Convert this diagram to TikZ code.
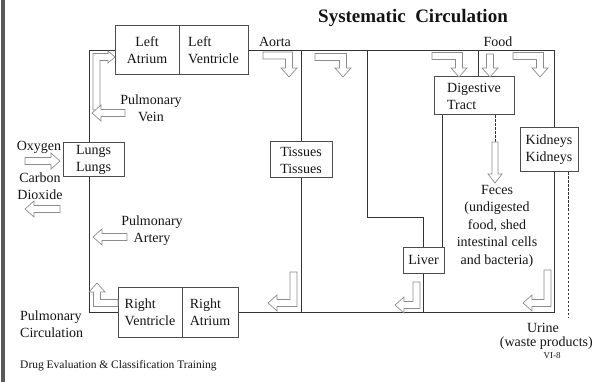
\documentclass[tikz,border=0pt]{standalone}
\usepackage{fontspec}
\setmainfont{Liberation Serif}
\def\sA{3.5}\def\hA{8}\def\lA{9}
\newcommand\arrRD[4]{\draw[harrow] ({#1},{#2-\sA}) -- ({#3+\sA},{#2-\sA}) -- ({#3+\sA},{#4-\lA}) -- ({#3+\hA},{#4-\lA}) -- ({#3},{#4}) -- ({#3-\hA},{#4-\lA}) -- ({#3-\sA},{#4-\lA}) -- ({#3-\sA},{#2+\sA}) -- ({#1},{#2+\sA}) -- cycle;}
\newcommand\arrDL[4]{\draw[harrow] ({#1-\sA},{#2}) -- ({#1+\sA},{#2}) -- ({#1+\sA},{#3+\sA}) -- ({#4+\lA},{#3+\sA}) -- ({#4+\lA},{#3+\hA}) -- ({#4},{#3}) -- ({#4+\lA},{#3-\hA}) -- ({#4+\lA},{#3-\sA}) -- ({#1-\sA},{#3-\sA}) -- cycle;}
\newcommand\arrLU[4]{\draw[harrow] ({#1},{#2+\sA}) -- ({#3-\sA},{#2+\sA}) -- ({#3-\sA},{#4+\lA}) -- ({#3-\hA},{#4+\lA}) -- ({#3},{#4}) -- ({#3+\hA},{#4+\lA}) -- ({#3+\sA},{#4+\lA}) -- ({#3+\sA},{#2-\sA}) -- ({#1},{#2-\sA}) -- cycle;}
\newcommand\arrUR[4]{\draw[harrow] ({#1-\sA},{#2}) -- ({#1-\sA},{#3-\sA}) -- ({#4-\lA},{#3-\sA}) -- ({#4-\lA},{#3-\hA}) -- ({#4},{#3}) -- ({#4-\lA},{#3+\hA}) -- ({#4-\lA},{#3+\sA}) -- ({#1+\sA},{#3+\sA}) -- ({#1+\sA},{#2}) -- cycle;}
\newcommand\arrLeft[3]{\draw[harrow] ({#2},{#3-\sA}) -- ({#1+\lA},{#3-\sA}) -- ({#1+\lA},{#3-\hA}) -- ({#1},{#3}) -- ({#1+\lA},{#3+\hA}) -- ({#1+\lA},{#3+\sA}) -- ({#2},{#3+\sA}) -- cycle;}
\newcommand\arrRight[3]{\draw[harrow] ({#1},{#3-\sA}) -- ({#2-\lA},{#3-\sA}) -- ({#2-\lA},{#3-\hA}) -- ({#2},{#3}) -- ({#2-\lA},{#3+\hA}) -- ({#2-\lA},{#3+\sA}) -- ({#1},{#3+\sA}) -- cycle;}
\newcommand\arrDown[3]{\draw[harrow] ({#1-\sA},{#2}) -- ({#1-\sA},{#3-\lA}) -- ({#1-\hA},{#3-\lA}) -- ({#1},{#3}) -- ({#1+\hA},{#3-\lA}) -- ({#1+\sA},{#3-\lA}) -- ({#1+\sA},{#2}) -- cycle;}
\begin{document}
\begin{tikzpicture}[x=1pt,y=-1pt,
  every node/.style={text=black!92, font=\fontsize{14}{17}\selectfont},
  box/.style={draw=black!70, line width=1pt, fill=white, inner sep=2pt},
  flow/.style={draw=black!80, line width=0.8pt},
  dashflow/.style={draw=black!80, line width=0.9pt, dash pattern=on 2.5pt off 1.5pt},
  harrow/.style={draw=black!45, line width=0.7pt, fill=white, line join=miter},
  lbl/.style={align=center, inner sep=0pt}]
\useasboundingbox (0,0) rectangle (594,382);
\fill[black!65] (1,0) rectangle (5,382);
% title
\node[lbl, font=\fontsize{19}{22}\bfseries\selectfont] (title) at (413,18) {Systematic\ \ Circulation};
% boxes
\node[box, minimum width=64pt, minimum height=49pt, align=center] (LA) at (147,50.5) {Left\\Atrium};
\node[box, minimum width=69pt, minimum height=49pt, align=left] (LV) at (213.5,50.5) {Left\\Ventricle};
\node[box, minimum width=64pt, minimum height=50pt, align=left] (RV) at (150,312) {Right\\Ventricle};
\node[box, minimum width=56pt, minimum height=50pt, align=left] (RA) at (210,312) {Right\\Atrium};
\node[box, minimum width=61pt, minimum height=34pt, align=center] (Lu) at (93.5,160) {Lungs\\Lungs};
\node[box, minimum width=62pt, minimum height=36pt, align=center] (Ti) at (301,160) {Tissues\\Tissues};
\node[box, minimum width=80pt, minimum height=38pt, align=left] (DT) at (474,96) {Digestive\\Tract};
\node[box, minimum width=41pt, minimum height=26pt] (Li) at (423.5,260) {Liver};
\node[box, minimum width=58pt, minimum height=44pt, align=center] (Ki) at (549,150) {Kidneys\\Kidneys};
% coordinates
\coordinate (pl) at (89,0);
\coordinate (tr) at (554,50.5);
\coordinate (br) at (554,312);
\coordinate (lvA) at (367,50.5);
\coordinate (lvB) at (367,217);
\coordinate (fd) at (478,50.5);
\coordinate (pv) at (442,0);
\coordinate (fx) at (495,0);
\coordinate (ux) at (568,0);
\coordinate (uend) at (568,318);
\coordinate (fend) at (495,142);
% pulmonary circuit
\draw[flow] (LA.west) -- (LA.west -| pl) -- (Lu.north -| pl);
\draw[flow] (Lu.south -| pl) -- (RV.west -| pl) -- (RV.west);
% systemic circuit
\draw[flow] (LV.east) -- (tr) -- (Ki.north -| tr);
\draw[flow] (Ki.south -| tr) -- (br) -- (RA.east);
\draw[flow] (Ti.north |- tr) -- (Ti.north);
\draw[flow] (Ti.south) -- (Ti.south |- br);
\draw[flow] (lvA) -- (lvB) -- (lvB -| Li.north) -- (Li.north);
\draw[flow] (fd) -- (fd |- DT.north);
\draw[flow] (DT.south -| pv) -- (Li.north -| pv);
\draw[flow] (Li.south) -- (Li.south |- br);
\draw[dashflow] (DT.south -| fx) -- (fend);
\draw[dashflow] (Ki.south -| ux) -- (uend);
% hollow arrows
\arrRD{263}{55.5}{289}{77}
\arrRD{315}{57}{343}{77}
\arrRD{432}{56}{459}{77}
\arrDown{490}{54}{77}
\arrRD{513}{56}{540}{77}
\arrDL{293.5}{272}{303}{268}
\arrDL{416.5}{282}{305}{395}
\arrDL{547.5}{270}{303}{523}
\arrLU{118}{303}{97}{283}
\arrLeft{93}{127}{237}
\arrRight{25}{60}{161}
\arrLeft{25}{60}{209}
\begingroup\def\hA{6}\def\lA{7}
\arrUR{96.5}{110}{57}{115}
\endgroup
\arrLeft{92}{125}{113}
\begingroup\def\sA{3}\def\hA{7}
\arrDown{495}{142}{183}
\endgroup
% labels
\node[lbl] (aorta) at (275,42) {Aorta};
\node[lbl] (food) at (498,42) {Food};
\node[lbl] (pvein) at (151,108) {Pulmonary\\Vein};
\node[lbl] (part) at (152,231) {Pulmonary\\Artery};
\node[lbl] (oxy) at (39,147) {Oxygen};
\node[lbl] (co2) at (40,186.5) {Carbon\\Dioxide};
\node[lbl, align=left, anchor=west] (pcirc) at (20,324) {Pulmonary\\Circulation};
\node[lbl, font=\fontsize{14}{17.5}\selectfont] (feces) at (497,226) {Feces\\(undigested\\food, shed\\intestinal cells\\and bacteria)};
\node[lbl] (urine) at (543,328) {Urine};
\node[lbl, anchor=east] (waste) at (593,343) {(waste products)};
\node[lbl, font=\fontsize{9}{10}\selectfont] (vi) at (552,356) {VI-8};
\node[lbl, anchor=west, font=\fontsize{11.5}{13}\selectfont] (dect) at (20,366) {Drug Evaluation \& Classification Training};
\end{tikzpicture}
\end{document}
